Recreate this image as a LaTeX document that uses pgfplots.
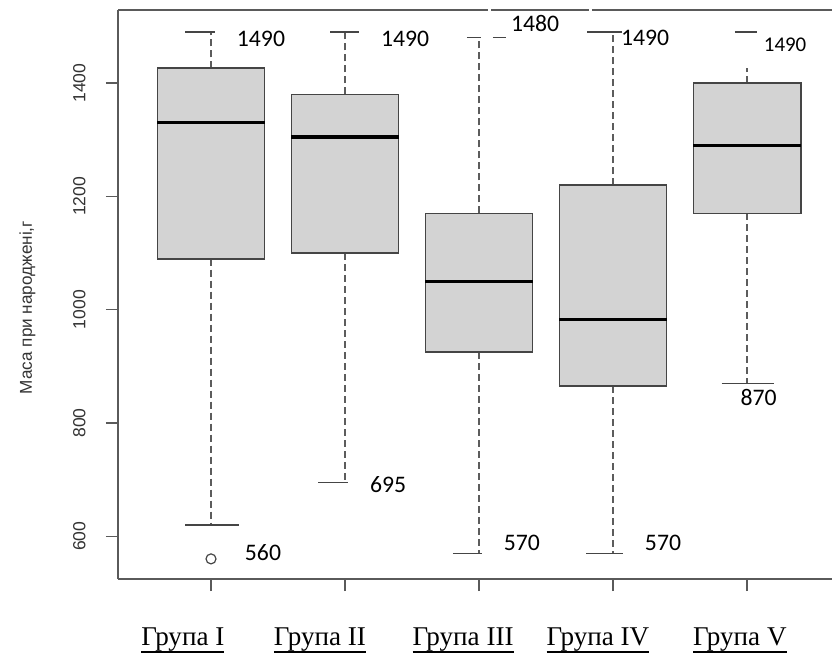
\documentclass[border=0pt]{standalone}
\usepackage{pgfplots}
\pgfplotsset{compat=1.18}
\usepackage{fontspec}
\setmainfont{Liberation Serif}
\newfontfamily\arialf{Liberation Sans}
\newfontfamily\calibrif{Carlito}
\definecolor{boxfill}{HTML}{D3D3D3}
\definecolor{edge}{HTML}{454545}
\definecolor{axcol}{HTML}{5A5A5A}
\definecolor{whcol}{HTML}{5C5C5C}
\newcommand\ul[1]{\setbox0\hbox{#1}\rlap{\rule[-3.9bp]{\wd0}{0.9bp}}\box0}
% box statistics: position, lower whisker, Q1, median, Q3, upper whisker
% I: 1, 620, 1090, 1330, 1426, 1490 (outlier 560)
% II: 2, 695, 1100, 1305, 1380, 1490
% III: 3, 570, 925, 1050, 1170, 1480
% IV: 4, 570, 865, 983, 1220, 1490
% V: 5, 870, 1170, 1290, 1400, 1490
\pgfplotsset{
  boxst/.style={draw=edge, fill=boxfill, line width=0.85pt},
  medst/.style={black, line width=1.7pt},
  whst/.style={whcol, line width=0.6pt, dash pattern=on 3.5bp off 2bp},
  capst/.style={edge, line width=0.7pt, solid},
}
\begin{document}
\begin{tikzpicture}
\begin{axis}[
  scale only axis, width=357bp, height=284.5bp,
  xmin=0.306, xmax=5.634, ymin=524.5, ymax=1529,
  axis x line*=bottom, axis y line*=left,
  axis line style={draw=axcol, line width=1pt},
  tick align=outside, major tick length=6bp,
  tick style={axcol, line width=0.7pt},
  xtick={1,2,3,4,5}, xticklabels={},
  ytick={600,800,1000,1200,1400},
  /pgf/number format/assume math mode=true,
  /pgf/number format/1000 sep={},
  yticklabel style={rotate=90, anchor=south, inner xsep=0pt, inner ysep=10bp, font=\arialf\fontsize{8.8}{10}\selectfont, text=black!80},
  ylabel={Маса при народжені,г},
  ylabel style={font=\arialf\fontsize{8.6}{10}\selectfont, text=black!80, at={(axis description cs:-0.1267,0.477)}, anchor=center},
  clip=false,
]
% whiskers (dashed)
\addplot[whst] coordinates {(1,1426) (1,1490)};
\addplot[whst] coordinates {(1,1090) (1,620)};
\addplot[whst] coordinates {(2,1380) (2,1490)};
\addplot[whst] coordinates {(2,1100) (2,695)};
\addplot[whst] coordinates {(3,1170) (3,1480)};
\addplot[whst] coordinates {(3,925) (3,570)};
\addplot[whst] coordinates {(4,1220) (4,1490)};
\addplot[whst] coordinates {(4,865) (4,570)};
\addplot[whst] coordinates {(5,1400) (5,1426)};
\addplot[whst] coordinates {(5,1170) (5,870)};
% caps
\addplot[capst] coordinates {(0.806,1490) (1.03,1490)};
\addplot[capst] coordinates {(0.806,620) (1.209,620)};
\addplot[capst] coordinates {(1.888,1490) (2.104,1490)};
\addplot[capst] coordinates {(1.80,695) (2.022,695)};
\addplot[capst] coordinates {(2.910,1480) (3.015,1480)};
\addplot[capst] coordinates {(3.104,1480) (3.201,1480)};
\addplot[capst] coordinates {(2.804,570) (3.02,570)};
\addplot[capst] coordinates {(3.806,1490) (4.067,1490)};
\addplot[capst] coordinates {(3.799,570) (4.075,570)};
\addplot[capst] coordinates {(4.910,1490) (5.075,1490)};
\addplot[capst] coordinates {(4.811,870) (5.2,870)};
% boxes
\addplot[boxst] coordinates {(0.6,1090) (1.4,1090) (1.4,1426) (0.6,1426)} -- cycle;
\addplot[boxst] coordinates {(1.6,1100) (2.4,1100) (2.4,1380) (1.6,1380)} -- cycle;
\addplot[boxst] coordinates {(2.6,925) (3.4,925) (3.4,1170) (2.6,1170)} -- cycle;
\addplot[boxst] coordinates {(3.6,865) (4.4,865) (4.4,1220) (3.6,1220)} -- cycle;
\addplot[boxst] coordinates {(4.6,1170) (5.4,1170) (5.4,1400) (4.6,1400)} -- cycle;
% medians
\addplot[medst] coordinates {(0.6,1330) (1.4,1330)};
\addplot[medst] coordinates {(1.6,1305) (2.4,1305)};
\addplot[medst] coordinates {(2.6,1050) (3.4,1050)};
\addplot[medst] coordinates {(3.6,983) (4.4,983)};
\addplot[medst] coordinates {(4.6,1290) (5.4,1290)};
% outlier
\addplot[only marks, mark=o, mark size=2.5bp, mark options={draw=edge, line width=0.6pt}] coordinates {(1,560)};
% top frame line (with the small gaps of the reference)
\draw[axcol, line width=1pt] (rel axis cs:0,1) -- (axis cs:3.067,1529);
\draw[axcol, line width=1pt] (axis cs:3.09,1529) -- (axis cs:3.821,1529);
\draw[axcol, line width=1pt] (axis cs:3.843,1529) -- (rel axis cs:1,1);
% value annotations
\node[font=\calibrif\fontsize{11.9}{13}\selectfont, inner sep=0pt] at (axis cs:1.373,1477.7) {1490};
\node[font=\calibrif\fontsize{11.9}{13}\selectfont, inner sep=0pt] at (axis cs:2.448,1477.7) {1490};
\node[font=\calibrif\fontsize{11.9}{13}\selectfont, inner sep=0pt] at (axis cs:3.418,1506) {1480};
\node[font=\calibrif\fontsize{11.9}{13}\selectfont, inner sep=0pt] at (axis cs:4.239,1479) {1490};
\node[font=\calibrif\fontsize{10.5}{12}\selectfont, inner sep=0pt] at (axis cs:5.284,1468) {1490};
\node[font=\calibrif\fontsize{11.9}{13}\selectfont, inner sep=0pt] at (axis cs:1.388,570.7) {560};
\node[font=\calibrif\fontsize{11.9}{13}\selectfont, inner sep=0pt] at (axis cs:2.321,691) {695};
\node[font=\calibrif\fontsize{11.9}{13}\selectfont, inner sep=0pt] at (axis cs:3.319,588.4) {570};
\node[font=\calibrif\fontsize{11.9}{13}\selectfont, inner sep=0pt] at (axis cs:4.373,588.4) {570};
\node[font=\calibrif\fontsize{11.9}{13}\selectfont, inner sep=0pt] at (axis cs:5.087,845.7) {870};
% group labels
\node[font=\fontsize{13.6}{15}\selectfont, inner sep=0pt, anchor=base, yshift=-33bp] at (axis cs:0.790,524.5) {\ul{Група I}};
\node[font=\fontsize{13.6}{15}\selectfont, inner sep=0pt, anchor=base, yshift=-33bp] at (axis cs:1.813,524.5) {\ul{Група II}};
\node[font=\fontsize{13.6}{15}\selectfont, inner sep=0pt, anchor=base, yshift=-33bp] at (axis cs:2.881,524.5) {\ul{Група III}};
\node[font=\fontsize{13.6}{15}\selectfont, inner sep=0pt, anchor=base, yshift=-33bp] at (axis cs:3.888,524.5) {\ul{Група IV}};
\node[font=\fontsize{13.6}{15}\selectfont, inner sep=0pt, anchor=base, yshift=-33bp] at (axis cs:4.946,524.5) {\ul{Група V}};
\end{axis}
\pgfresetboundingbox
\path[use as bounding box] (-59bp,-38bp) rectangle (357bp,289.5bp);
\end{tikzpicture}
\end{document}
